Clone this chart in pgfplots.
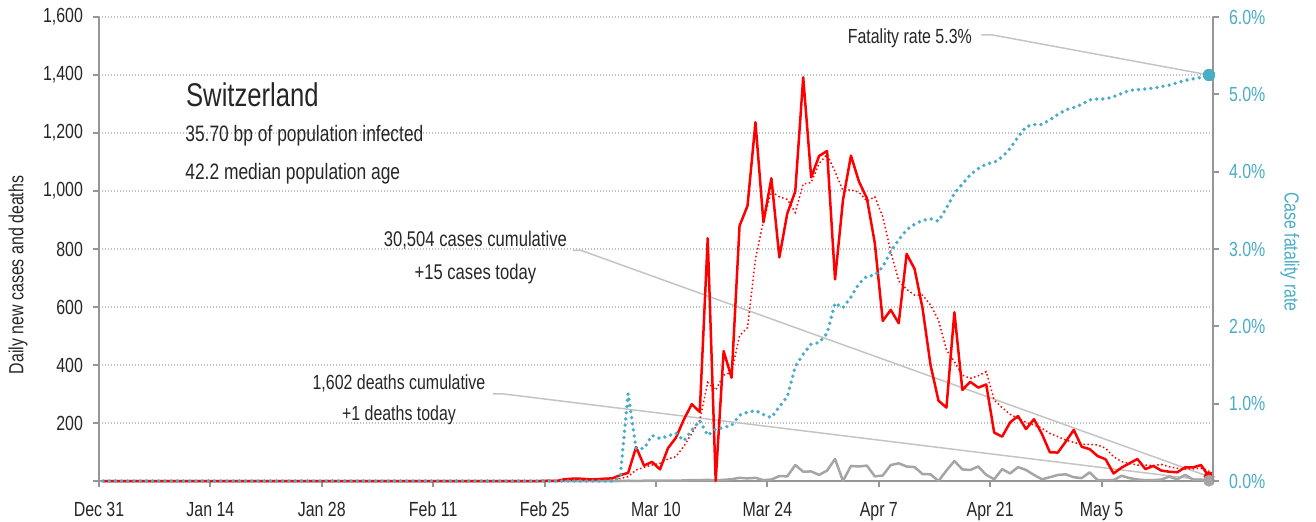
\documentclass[border=0pt]{standalone}
\usepackage{fontspec}
\setmainfont{Liberation Sans}[FakeStretch=0.78]
\usepackage{pgfplots}
\pgfplotsset{compat=1.18}
\usepackage{pgfplotstable}

\definecolor{CaseRed}{HTML}{FF0000}
\definecolor{RateBlue}{HTML}{4BACC6}
\definecolor{DeathGrey}{HTML}{A5A5A5}
\definecolor{LeaderGrey}{HTML}{C4C4C4}
\definecolor{AxisGrey}{HTML}{969696}
\definecolor{GridGrey}{HTML}{BFBFBF}
\definecolor{TextDark}{HTML}{262626}

% day 0 = Dec 31; cases, 7-day average, deaths, case fatality rate (%)
\pgfplotstableread{
day cases avg deaths cfr
0   0    0    0  0
55  0    0    0  0
56  1    0    0  0
57  0    0    0  0
58  6    1    0  0
59  8    2    0  0
60  8    3    0  0
61  6    4    0  0
62  6    5    0  0
63  8    6    0  0
64  9    7    0  0
65  20   8    0  0.05
66  28   15   1  1.13
67  117  38   0  0.42
68  53   47   1  0.42
69  66   55   1  0.59
70  40   61   1  0.55
71  113  76   1  0.58
72  149  84   1  0.62
73  212  120  2  0.52
74  265  164  3  0.66
75  238  210  3  0.78
76  837  340  4  0.59
77  0    314  2  0.67
78  448  365  4  0.69
79  356  375  6  0.72
80  880  501  11 0.85
81  949  529  9  0.89
82  1237 765  11 0.91
83  892  897  3  0.86
84  1044 998  5  0.82
85  771  980  17 0.96
86  923  971  16 1.09
87  998  926  55 1.48
88  1392 1024 32 1.64
89  1047 1029 33 1.77
90  1121 1095 21 1.79
91  1138 1126 36 1.91
92  695  1067 76 2.30
93  969  1001 0  2.24
94  1122 1004 52 2.38
95  1033 996  50 2.55
96  975  965  53 2.65
97  820  980  16 2.66
98  552  911  19 2.77
99  590  791  55 2.97
100 544  690  61 3.12
101 783  661  50 3.25
102 731  641  48 3.32
103 595  641  24 3.37
104 400  607  23 3.39
105 277  555  0  3.36
106 253  452  36 3.53
107 582  411  69 3.72
108 314  365  40 3.84
109 342  354  38 3.96
110 322  363  50 4.04
111 333  377  21 4.10
112 167  279  6  4.12
113 153  253  41 4.19
114 202  230  26 4.30
115 224  216  48 4.45
116 179  202  38 4.58
117 213  193  21 4.61
118 162  182  6  4.61
119 99   164  13 4.67
120 98   153  21 4.74
121 136  141  23 4.80
122 176  133  13 4.83
123 118  126  10 4.87
124 110  126  30 4.93
125 86   124  3  4.94
126 75   113  3  4.94
127 26   84   3  4.97
128 46   67   18 5.01
129 61   61   10 5.05
130 76   55   5  5.06
131 41   55   3  5.07
132 52   53   3  5.08
133 36   57   5  5.10
134 32   49   15 5.12
135 30   44   6  5.15
136 47   41   21 5.18
137 47   42   5  5.20
138 55   44   5  5.22
139 15   36   1  5.25
}\swiss

\newcommand{\txt}{\fontsize{10.25}{12}\selectfont}
\newcommand{\subtxt}{\fontsize{11.2}{13}\selectfont}

\begin{document}
\begin{tikzpicture}
\path[use as bounding box] (-49.5bp,-20.5bp) rectangle (608.5bp,240.5bp);

\pgfplotsset{
  every axis/.append style={
    width=557bp, height=232bp, scale only axis,
    xmin=0, xmax=140, clip=false,
    tick align=outside, major tick length=3bp,
    axis line style={AxisGrey, line width=1bp},
    tick style={AxisGrey, line width=1bp},
    tick label style={font=\txt},
    label style={font=\txt},
  },
}

\begin{axis}[
  axis x line*=bottom, axis y line*=left,
  xtick pos=bottom, ytick pos=left,
  ymin=0, ymax=1600,
  ytick={0,200,...,1600},
  yticklabels={{},200,400,600,800,{1,000},{1,200},{1,400},{1,600}},
  xtick={0,14,...,126},
  xticklabels={Dec 31,Jan 14,Jan 28,Feb 11,Feb 25,Mar 10,Mar 24,Apr 7,Apr 21,May 5},
  ticklabel style={TextDark},
  xticklabel style={yshift=-4bp},
  yticklabel style={xshift=-1.5bp},
  ymajorgrids,
  grid style={GridGrey, dash pattern=on 0.5bp off 1bp, line width=0.6bp},
  ylabel={Daily new cases and deaths},
  ylabel style={TextDark, at={(axis description cs:-0.0727,0.444)}, anchor=center},
]
% leader lines
\draw[LeaderGrey, line width=0.75bp] (axis cs:59.55,795) -- (axis cs:60.6,795) -- (axis cs:139.5,15);
\draw[LeaderGrey, line width=0.75bp] (axis cs:49.5,300) -- (axis cs:50.9,300) -- (axis cs:139.5,1);
\draw[LeaderGrey, line width=0.75bp] (axis cs:110.9,1538) -- (axis cs:112.3,1538) -- (axis cs:139.5,1400);

\addplot[DeathGrey, line width=1.25bp, line join=round] table[x expr=\thisrow{day}+0.5, y=deaths]{\swiss};
\addplot[CaseRed, line width=1.25bp, line join=round] table[x expr=\thisrow{day}+0.5, y=cases]{\swiss};
\addplot[CaseRed, line width=0.75bp, dash pattern=on 0.75bp off 1.25bp] table[x expr=\thisrow{day}+0.5, y=avg]{\swiss};
\addplot[only marks, mark=*, mark size=2.5bp, CaseRed] coordinates {(139.5,15)};
\addplot[only marks, mark=*, mark size=2.75bp, DeathGrey] coordinates {(139.5,1)};

\node[anchor=base west, inner sep=0pt, TextDark, font=\fontsize{16.5}{18}\selectfont] at (axis cs:10.9,1291) {Switzerland};
\node[anchor=base west, inner sep=0pt, TextDark, font=\subtxt] at (axis cs:10.8,1170) {35.70 bp of population infected};
\node[anchor=base west, inner sep=0pt, TextDark, font=\subtxt] at (axis cs:10.8,1038) {42.2 median population age};
\node[anchor=base, inner sep=0pt, TextDark, font=\fontsize{10.7}{12}\selectfont] at (axis cs:47.3,808) {30,504 cases cumulative};
\node[anchor=base, inner sep=0pt, TextDark, font=\fontsize{10.7}{12}\selectfont] at (axis cs:47.3,695) {+15 cases today};
\node[anchor=base, inner sep=0pt, TextDark, font=\txt] at (axis cs:37.7,314) {1,602 deaths cumulative};
\node[anchor=base, inner sep=0pt, TextDark, font=\txt] at (axis cs:37.7,210) {+1 deaths today};
\node[anchor=base, inner sep=0pt, TextDark, font=\txt] at (axis cs:101.9,1507) {Fatality rate 5.3\%};
\end{axis}

\begin{axis}[
  axis y line*=right, axis x line=none,
  ytick pos=right,
  ymin=0, ymax=6,
  ytick={0,1,...,6},
  yticklabels={0.0\%,1.0\%,2.0\%,3.0\%,4.0\%,5.0\%,6.0\%},
  yticklabel style={RateBlue, xshift=1.5bp},
  ylabel={Case fatality rate},
  ylabel style={RateBlue, at={(axis description cs:1.0691,0.494)}, anchor=center, rotate=180},
]
\addplot[RateBlue, line width=1.9bp, line cap=round, dash pattern=on 0pt off 3.1bp] table[x expr=\thisrow{day}+0.5, y=cfr]{\swiss};
\addplot[only marks, mark=*, mark size=2.9bp, RateBlue] coordinates {(139.5,5.25)};
\end{axis}
\end{tikzpicture}
\end{document}
